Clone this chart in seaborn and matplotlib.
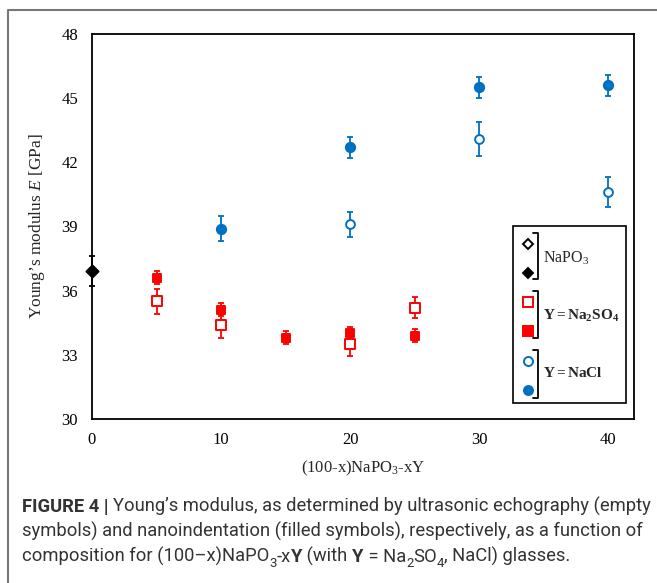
import numpy as np
import pandas as pd
import seaborn as sns
import matplotlib.pyplot as plt
from matplotlib.lines import Line2D
from matplotlib.patches import Rectangle

# composition x [mol%] and Young's modulus E [GPa]
# US = ultrasonic echography (empty symbols), NI = nanoindentation (filled)
napo3_x = [0]
napo3_ni = [36.9]
napo3_ni_err = [0.7]

so4_us_x = [5, 10, 20, 25]
so4_us = [35.5, 34.4, 33.5, 35.2]
so4_us_err = [0.6, 0.6, 0.55, 0.5]
so4_ni_x = [5, 10, 15, 20, 25]
so4_ni = [36.6, 35.1, 33.8, 34.0, 33.9]
so4_ni_err = [0.3, 0.3, 0.3, 0.3, 0.3]

nacl_us_x = [20, 30, 40]
nacl_us = [39.1, 43.1, 40.6]
nacl_us_err = [0.6, 0.8, 0.7]
nacl_ni_x = [10, 20, 30, 40]
nacl_ni = [38.9, 42.7, 45.5, 45.6]
nacl_ni_err = [0.6, 0.5, 0.5, 0.5]

x_ticks = [0, 10, 20, 30, 40]
y_ticks = [30, 33, 36, 39, 42, 45, 48]

RED = "#FF0000"
BLUE = "#0070C0"
W, H = 657, 583

sns.set_theme(style="white")
plt.rcParams["font.family"] = ["Liberation Serif", "DejaVu Serif"]
plt.rcParams["mathtext.fontset"] = "custom"
plt.rcParams["mathtext.rm"] = "Liberation Serif"
plt.rcParams["mathtext.it"] = "Liberation Serif:italic"
plt.rcParams["mathtext.bf"] = "Liberation Serif:bold"

fig = plt.figure(figsize=(W / 100, H / 100), dpi=100)
fig.patch.set_facecolor("white")


def fx(px):
    return px / W


def fy(py):
    return 1 - py / H


ax = fig.add_axes([fx(92), fy(419), fx(634) - fx(92), fy(34) - fy(419)])

series = [
    # x, y, err, color, marker, size, filled
    (so4_us_x, so4_us, so4_us_err, RED, "s", 48, False),
    (so4_ni_x, so4_ni, so4_ni_err, RED, "s", 40, True),
    (nacl_us_x, nacl_us, nacl_us_err, BLUE, "o", 40, False),
    (nacl_ni_x, nacl_ni, nacl_ni_err, BLUE, "o", 45, True),
    (napo3_x, napo3_ni, napo3_ni_err, "black", "D", 38, True),
]

for xs, ys, es, col, mk, sz, filled in series:
    ax.errorbar(xs, ys, yerr=es, fmt="none", ecolor=col, elinewidth=1.3,
                capsize=2.2, capthick=1.3, zorder=2, clip_on=False)
    df = pd.DataFrame({"x": xs, "E": ys})
    sns.scatterplot(data=df, x="x", y="E", ax=ax, marker=mk, s=sz,
                    color=col if filled else "white", edgecolor=col,
                    linewidth=1.4, zorder=3, legend=False, clip_on=False)

ax.set_xlim(0, 42)
ax.set_ylim(30, 48)
ax.set_xticks(x_ticks)
ax.set_yticks(y_ticks)
for s in ax.spines.values():
    s.set_visible(True)
    s.set_color("black")
    s.set_linewidth(1.3)
ax.tick_params(axis="both", direction="in", length=4, width=1.1,
               labelsize=12, colors="black")
ax.tick_params(axis="y", pad=10)
ax.tick_params(axis="x", pad=9)
ax.set_xlabel("(100-x)NaPO$_3$-xY", fontsize=12, labelpad=8)
ax.set_ylabel("Young\u2019s modulus $E$ [GPa]", fontsize=12.5, labelpad=10)

# custom legend with brackets
fig.patches.append(Rectangle((fx(513), fy(403)), fx(626) - fx(513), fy(226) - fy(403),
                             transform=fig.transFigure, fill=True, facecolor="white",
                             edgecolor="black", linewidth=1.2, zorder=5))
leg_items = [
    (244, "D", "black", False, 5), (273, "D", "black", True, 5),
    (302, "s", RED, False, 6.5), (331, "s", RED, True, 6.5),
    (361, "o", BLUE, False, 6.5), (390, "o", BLUE, True, 6.5),
]
for yy, mk, col, filled, ms in leg_items:
    fig.lines.append(Line2D([fx(528)], [fy(yy)], transform=fig.transFigure,
                            marker=mk, markersize=ms, markeredgewidth=1.4,
                            markeredgecolor=col, markerfacecolor=col if filled else "white",
                            linestyle="none", zorder=6))
brackets = [(233, 279, 258, "NaPO$_3$", "normal"),
            (291, 338, 316, r"$\mathbf{Y = Na_2SO_4}$", "bold"),
            (350, 398, 373, r"$\mathbf{Y = NaCl}$", "bold")]
for top, bot, ty, label, wt in brackets:
    fig.lines.append(Line2D([fx(533), fx(538), fx(538), fx(533)],
                            [fy(top), fy(top), fy(bot), fy(bot)],
                            transform=fig.transFigure, color="black", lw=1.3, zorder=6))
    fig.text(fx(543), fy(ty), label, fontsize=11.5 if wt == "normal" else 11,
             va="center", ha="left", fontweight=wt, zorder=7)

# outer frame of the figure panel
fig.lines.append(Line2D([fx(8), fx(8), fx(657)], [fy(583), fy(10), fy(10)],
                        transform=fig.transFigure, color="#777777", lw=1.5))

# caption
renderer = fig.canvas.get_renderer()
CAP = 13.2
CAP_FONT = ["Roboto", "DejaVu Sans"]


def draw_runs(x0, y0, runs):
    x = fx(x0)
    for text, bold, sub in runs:
        size = CAP * 0.72 if sub else CAP
        yy = fy(y0 + (5 if sub else 0))
        t = fig.text(x, yy, text, fontsize=size, family=CAP_FONT,
                     fontweight="bold" if bold else "normal", color="#333333",
                     va="baseline", ha="left")
        bb = t.get_window_extent(renderer)
        x += bb.width / W


draw_runs(22, 512, [("FIGURE 4 | ", True, False),
                    ("Young\u2019s modulus, as determined by ultrasonic echography (empty", False, False)])
draw_runs(22, 537, [("symbols) and nanoindentation (filled symbols), respectively, as a function of", False, False)])
draw_runs(22, 562, [("composition for (100\u2013x)NaPO", False, False), ("3", False, True),
                    ("-x", False, False), ("Y", True, False), (" (with ", False, False),
                    ("Y", True, False), (" = Na", False, False), ("2", False, True),
                    ("SO", False, False), ("4", False, True), (", NaCl) glasses.", False, False)])

fig.savefig("out.png", dpi=100, facecolor="white")
